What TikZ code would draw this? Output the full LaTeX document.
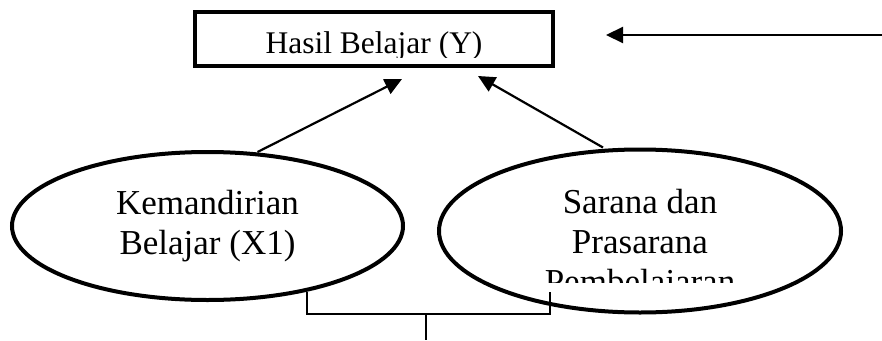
\documentclass[tikz,border=0pt]{standalone}
\usepackage{fontspec}
\setmainfont{Liberation Serif}
\usetikzlibrary{arrows.meta,shapes.geometric}
\tikzset{
  oval/.style={ellipse, draw, line width=4pt, inner sep=0pt, align=center,
    font=\fontsize{35}{40}\selectfont},
  panah/.style={-{Triangle[length=17pt,width=16pt]}, line width=2.2pt},
}
\begin{document}
\begin{tikzpicture}[x=1pt,y=-1pt]
\useasboundingbox (0,0) rectangle (882,340);
\node[draw, line width=4pt, minimum width=358pt, minimum height=54pt, inner sep=0pt] (hasil) at (374,39) {};
\begin{scope}
\clip (195,12) rectangle (553,57);
\node[anchor=base, font=\fontsize{31.5}{36}\selectfont, inner sep=0pt] at (374,53) {Hasil Belajar (Y)};
\end{scope}
\node[oval, minimum width=391pt, minimum height=148pt] (kemandirian) at (207.5,226) {Kemandirian\\Belajar (X1)};
\node[oval, minimum width=402pt, minimum height=163pt] (sarana) at (640,231) {};
\begin{scope}
\clip (440,150) rectangle (840,282);
\node[anchor=base, font=\fontsize{35}{40}\selectfont, align=center, inner sep=0pt] at (640,293) {Sarana dan\\Prasarana\\Pembelajaran};
\end{scope}
\coordinate (luar) at (882,35);
\draw[panah] (luar) -- (606,35);
\draw[panah] ([xshift=50pt,yshift=-2pt]kemandirian.north) -- ([xshift=28pt,yshift=-11pt]hasil.south);
\draw[panah] ([xshift=-37pt]sarana.north) -- ([xshift=104pt,yshift=-8pt]hasil.south);
\draw[line width=1.5pt] (307,292) -- (307,314) -- (550,314) -- (550,292);
\draw[line width=1.5pt] (426,314) -- (426,340);
\end{tikzpicture}
\end{document}
